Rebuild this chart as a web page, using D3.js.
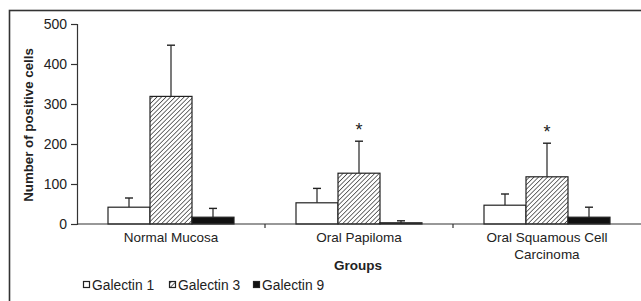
<!DOCTYPE html>
<html><head><meta charset="utf-8">
<script src="https://cdn.jsdelivr.net/npm/d3@7"></script>
<style>body{margin:0;background:#fff}svg{display:block}text{font-family:"Liberation Sans",Arial,sans-serif;fill:#222}</style>
</head><body><div id="c"></div>
<script>
const groups = ["Normal Mucosa", "Oral Papiloma", "Oral Squamous Cell Carcinoma"];
const groupLines = [["Normal Mucosa"], ["Oral Papiloma"], ["Oral Squamous Cell", "Carcinoma"]];
const seriesNames = ["Galectin 1", "Galectin 3", "Galectin 9"];
const galectin1 = [42, 53, 47];
const galectin3 = [319, 127, 118];
const galectin9 = [17, 3, 17];
const galectin1Err = [65, 89, 75];
const galectin3Err = [447, 207, 202];
const galectin9Err = [39, 8, 42];
const stars = [false, true, true];
const yTicks = [0, 100, 200, 300, 400, 500];

const W = 641, H = 301;
const svg = d3.select("#c").append("svg").attr("width", W).attr("height", H);
const defs = svg.append("defs");
const pat = defs.append("pattern").attr("id", "hatch").attr("patternUnits", "userSpaceOnUse")
  .attr("width", 3.2).attr("height", 3.2).attr("patternTransform", "rotate(45)");
pat.append("rect").attr("width", 3.2).attr("height", 3.2).attr("fill", "#fff");
pat.append("line").attr("x1", 0).attr("y1", 0).attr("x2", 0).attr("y2", 3.2).attr("stroke", "#222").attr("stroke-width", 1.3);

// frame
svg.append("rect").attr("x", 9.5).attr("y", 10.5).attr("width", W + 10).attr("height", H + 10)
  .attr("fill", "none").attr("stroke", "#333").attr("stroke-width", 1.6);

const x0 = d3.scaleBand().domain(groups).range([77, 641]).padding(0);
const x1 = d3.scaleBand().domain(seriesNames).range([31, 157]).padding(0);
const y = d3.scaleLinear().domain([0, 500]).range([224, 24]);

const values = [galectin1, galectin3, galectin9];
const errs = [galectin1Err, galectin3Err, galectin9Err];
const fills = ["#fff", "url(#hatch)", "#111"];

// y axis
const ya = svg.append("g").attr("transform", "translate(77,0)")
  .call(d3.axisLeft(y).tickValues(yTicks).tickSize(6).tickPadding(4).tickFormat(d3.format("d")));
ya.select(".domain").attr("stroke", "#333").attr("stroke-width", 1.2);
ya.selectAll(".tick line").attr("stroke", "#333").attr("stroke-width", 1.2);
ya.selectAll(".tick text").style("font-size", "14px").attr("fill", "#222").style("font-family", '"Liberation Sans",Arial,sans-serif');

// bars
const data = [];
groups.forEach((g, gi) => seriesNames.forEach((s, si) => data.push({g, s, si, v: values[si][gi], e: errs[si][gi]})));
const gb = svg.append("g");
gb.selectAll("line.err").data(data).join("line").attr("class", "err")
  .attr("x1", d => x0(d.g) + x1(d.s) + x1.bandwidth() / 2).attr("x2", d => x0(d.g) + x1(d.s) + x1.bandwidth() / 2)
  .attr("y1", d => y(d.v)).attr("y2", d => y(d.e)).attr("stroke", "#222").attr("stroke-width", 1.2);
gb.selectAll("line.cap").data(data).join("line").attr("class", "cap")
  .attr("x1", d => x0(d.g) + x1(d.s) + x1.bandwidth() / 2 - 4).attr("x2", d => x0(d.g) + x1(d.s) + x1.bandwidth() / 2 + 4)
  .attr("y1", d => y(d.e)).attr("y2", d => y(d.e)).attr("stroke", "#222").attr("stroke-width", 1.4);
gb.selectAll("rect").data(data).join("rect")
  .attr("x", d => x0(d.g) + x1(d.s)).attr("width", x1.bandwidth())
  .attr("y", d => y(d.v)).attr("height", d => y(0) - y(d.v))
  .attr("fill", d => fills[d.si]).attr("stroke", "#222").attr("stroke-width", 1.2);

// x axis
const xa = svg.append("g").attr("transform", "translate(0,224)");
xa.append("line").attr("x1", 77).attr("x2", 641).attr("stroke", "#333").attr("stroke-width", 1.2);
xa.selectAll("line.t").data(groups.slice(1)).join("line").attr("class", "t")
  .attr("x1", d => x0(d)).attr("x2", d => x0(d)).attr("y1", 0).attr("y2", 4).attr("stroke", "#333").attr("stroke-width", 1.2);
groups.forEach((g, gi) => {
  const t = xa.append("text").attr("x", x0(g) + x0.bandwidth() / 2).attr("y", 18).attr("text-anchor", "middle").style("font-size", "13.5px");
  groupLines[gi].forEach((ln, li) => t.append("tspan").attr("x", x0(g) + x0.bandwidth() / 2).attr("dy", li ? 17 : 0).text(ln));
});

// stars
groups.forEach((g, gi) => {
  if (stars[gi]) svg.append("text").attr("x", x0(g) + x1("Galectin 3") + x1.bandwidth() / 2).attr("y", y(galectin3Err[gi]) - 5)
    .attr("text-anchor", "middle").style("font-size", "18px").text("*");
});

// axis titles
svg.append("text").attr("transform", "translate(33,125) rotate(-90)").attr("text-anchor", "middle")
  .style("font-size", "13.3px").style("font-weight", "bold").text("Number of positive cells");
svg.append("text").attr("x", 358).attr("y", 270).attr("text-anchor", "middle")
  .style("font-size", "13.5px").style("font-weight", "bold").text("Groups");

// legend
const legX = [83, 169, 253];
const lg = svg.append("g");
seriesNames.forEach((s, i) => {
  lg.append("rect").attr("x", legX[i] + 0.5).attr("y", 281.5).attr("width", 6).attr("height", 6)
    .attr("fill", fills[i]).attr("stroke", "#222").attr("stroke-width", 1.2);
  lg.append("text").attr("x", legX[i] + 9).attr("y", 289.5).style("font-size", "13.8px").text(s);
});
</script></body></html>
